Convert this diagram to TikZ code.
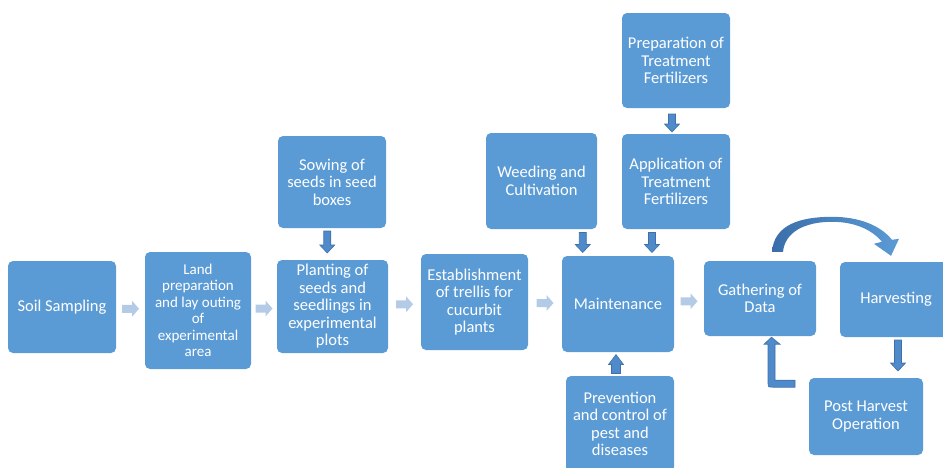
\documentclass[tikz,border=0pt]{standalone}
\usepackage{fontspec}
\setmainfont{Carlito}
\usetikzlibrary{calc}
\definecolor{boxblue}{HTML}{5B9BD5}
\definecolor{paleblue}{HTML}{B4CBE8}
\definecolor{arrowblue}{HTML}{4F8ACB}
\definecolor{arrowedge}{HTML}{3F71A8}
\definecolor{bluedark}{HTML}{3A6EAA}

\begin{document}
\begin{tikzpicture}[x=1pt,y=-1pt,
  stage/.style={fill=boxblue, rounded corners=5pt, text=white, align=center,
    inner sep=0pt, font=\fontsize{16.5}{17.5}\selectfont},
  smalltext/.style={font=\fontsize{15}{16.5}\selectfont},
  % pale block arrow pointing right
  pics/rightarrow/.style={code={
    \fill[paleblue] (-8.5,-4) -- (1.5,-4) -- (1.5,-8) -- (8.5,0) -- (1.5,8)
      -- (1.5,4) -- (-8.5,4) -- cycle;}},
  % dark block arrow pointing down, #1 = half length
  pics/downarrow/.style={code={
    \filldraw[fill=arrowblue, draw=arrowedge, line width=0.6pt]
      (-3.5,-#1) -- (3.5,-#1) -- (3.5,#1-8) -- (7.5,#1-8) -- (0,#1)
      -- (-7.5,#1-8) -- (-3.5,#1-8) -- cycle;}},
  % dark block arrow pointing up
  pics/uparrow/.style={code={
    \filldraw[fill=arrowblue, draw=arrowedge, line width=0.6pt]
      (-4.5,9.5) -- (4.5,9.5) -- (4.5,0.5) -- (7.5,0.5) -- (0,-9.5)
      -- (-7.5,0.5) -- (-4.5,0.5) -- cycle;}},
]
\useasboundingbox (0,0) rectangle (943,467);
\clip (0,0) rectangle (943,467);

% stages
\node[stage, minimum width=108pt, minimum height=92pt] (soil) at (62,307) {Soil Sampling};
\node[stage, smalltext, minimum width=106pt, minimum height=117pt] (land) at (198,310.5)
  {Land\\preparation\\and lay outing\\of\\experimental\\area};
\node[stage, minimum width=111pt, minimum height=93pt] (plant) at (332.5,306.5)
  {Planting of\\seeds and\\seedlings in\\experimental\\plots};
\node[stage, minimum width=108pt, minimum height=92pt] (sow) at (332,182)
  {Sowing of\\seeds in seed\\boxes};
\node[stage, minimum width=107pt, minimum height=96pt] (estab) at (474.5,302)
  {Establishment\\of trellis for\\cucurbit\\plants};
\node[stage, minimum width=112pt, minimum height=96pt] (maint) at (618,304) {Maintenance};
\node[stage, minimum width=111pt, minimum height=96pt] (weed) at (541.5,181)
  {Weeding and\\Cultivation};
\node[stage, minimum width=108pt, minimum height=95pt] (appl) at (676,181.5)
  {Application of\\Treatment\\Fertilizers};
\node[stage, minimum width=108pt, minimum height=95pt] (prep) at (676,60.5)
  {Preparation of\\Treatment\\Fertilizers};
\node[stage, minimum width=108pt, minimum height=96pt] (prev) at (620,424)
  {Prevention\\and control of\\pest and\\diseases};
\node[stage, minimum width=112pt, minimum height=75pt] (gather) at (760,298.5)
  {Gathering of\\Data};
\node[stage, minimum width=112pt, minimum height=75pt] (harvest) at (896,299.5) {Harvesting};
\node[stage, minimum width=114pt, minimum height=77pt] (post) at (866,416.5)
  {Post Harvest\\Operation};

% main sequence
\pic at ($(soil.east)!.5!(land.west)$) {rightarrow};
\pic at ($(land.east)!.5!(plant.west)$) {rightarrow};
\pic at ($(plant.east)!.5!(estab.west)$) {rightarrow};
\pic at ($(estab.east)!.5!(maint.west)$) {rightarrow};
\pic at ($(maint.east)!.5!(gather.west)$) {rightarrow};

% feeding stages
\pic at ($(sow.south)!.5!(plant.north)+(-5,-2)$) {downarrow=11};
\pic at ($(weed.south)!.5!(maint.north)+(3,0)$) {downarrow=10};
\pic at ($(appl.south)!.5!(maint.north)+(5,0)$) {downarrow=10};
\pic at ($(prep.south)!.5!(appl.north)+(-4,2)$) {downarrow=9};
\pic at ($(prev.north)!.5!(maint.south)+(-3,0)$) {uparrow};
\pic at ($(harvest.south)!.5!(harvest.south |- post.north)+(2,-2)$) {downarrow=15.5};

% loop back from post harvest to gathering of data
\begin{scope}[shift={(gather.south)}]
  \filldraw[fill=arrowblue, draw=arrowedge, line width=0.6pt]
    (11.5,1) -- (20,8) -- (15,8) -- (15,44) -- (35,44) -- (35,51) -- (13,51)
    .. controls (8,51) .. (8,46) -- (8,8) -- (4,8) -- cycle;
\end{scope}

% curved arrow from gathering of data to harvesting
\begin{scope}[shift={(gather.north)}]
  \shade[left color=bluedark, right color=boxblue]
    (12,-9) .. controls (14,-36) and (40,-44) .. (72,-44)
    .. controls (98,-44) and (120,-36) .. (132,-21)
    -- (139,-22) -- (131,-5) -- (114,-17) -- (122,-19)
    .. controls (112,-31) and (95,-39) .. (72,-39)
    .. controls (45,-39) and (25,-29) .. (23,-9) -- cycle;
\end{scope}
\end{tikzpicture}
\end{document}
